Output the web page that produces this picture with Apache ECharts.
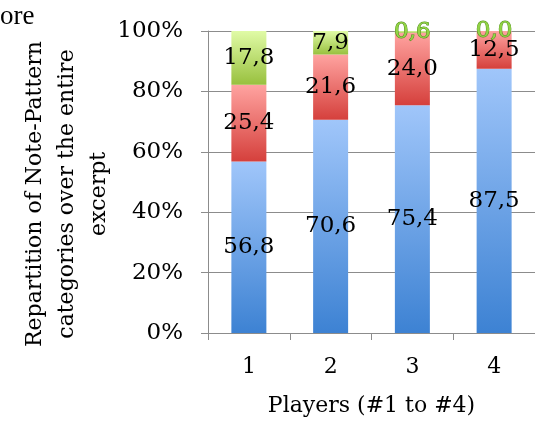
<!DOCTYPE html>
<html>
<head>
<meta charset="utf-8">
<script src="https://cdn.jsdelivr.net/npm/echarts@6/dist/echarts.min.js"></script>
<style>
  html, body { margin: 0; padding: 0; background: #fff; }
  #chart { width: 535px; height: 422px; }
</style>
</head>
<body>
<div id="chart"></div>
<script>
// Players and the share (%) of each note-pattern category per player
const players = ['1', '2', '3', '4'];
const blueShare = [56.8, 70.6, 75.4, 87.5];
const redShare = [25.4, 21.6, 24.0, 12.5];
const greenShare = [17.8, 7.9, 0.6, 0.0];
const yTicks = [0, 20, 40, 60, 80, 100];

const FONT = 'DejaVu Serif';

function grad(top, bottom) {
  return new echarts.graphic.LinearGradient(0, 0, 0, 1, [
    { offset: 0, color: top },
    { offset: 1, color: bottom }
  ]);
}

const fmt = p => p.value.toFixed(1).replace('.', ',');

const blackLabel = {
  show: true,
  position: 'inside',
  formatter: fmt,
  color: '#000',
  fontFamily: FONT,
  fontSize: 23
};

const chart = echarts.init(document.getElementById('chart'));
chart.setOption({
  animation: false,
  backgroundColor: '#fff',
  grid: { left: 208, top: 31, width: 340, height: 302, containLabel: false },
  xAxis: {
    type: 'category',
    data: players,
    axisLine: { lineStyle: { color: '#8c8c8c', width: 1 } },
    axisTick: { show: true, length: 7, alignWithLabel: false, lineStyle: { color: '#8c8c8c' } },
    axisLabel: { color: '#000', fontFamily: FONT, fontSize: 22, margin: 23 },
    name: 'Players (#1 to #4)',
    nameLocation: 'middle',
    nameGap: 62,
    nameTextStyle: { color: '#000', fontFamily: FONT, fontSize: 22 }
  },
  yAxis: {
    type: 'value',
    min: yTicks[0],
    max: yTicks[yTicks.length - 1],
    interval: 20,
    axisLine: { show: true, lineStyle: { color: '#8c8c8c', width: 1 } },
    axisTick: { show: true, length: 7, lineStyle: { color: '#8c8c8c' } },
    axisLabel: { formatter: '{value}%', color: '#000', fontFamily: FONT, fontSize: 23, margin: 25 },
    splitLine: { show: true, lineStyle: { color: '#8c8c8c', width: 1 } }
  },
  series: [
    {
      name: 'blue',
      type: 'bar',
      stack: 'total',
      barWidth: 35,
      data: blueShare,
      itemStyle: { color: grad('#a0c6fa', '#3d82d3') },
      label: blackLabel
    },
    {
      name: 'red',
      type: 'bar',
      stack: 'total',
      barWidth: 35,
      data: redShare,
      itemStyle: { color: grad('#ffa3a0', '#d5403c') },
      label: blackLabel
    },
    {
      name: 'green',
      type: 'bar',
      stack: 'total',
      barWidth: 35,
      // tiny categories get a green outlined label instead of the plain black one
      data: greenShare.map(v => ({
        value: v,
        label: v < 2 ? { color: '#92d444', textBorderColor: '#4f8a1c', textBorderWidth: 1 } : {}
      })),
      itemStyle: { color: grad('#e0fba6', '#98c03e') },
      label: blackLabel
    }
  ],
  graphic: [
    {
      type: 'text',
      left: 0,
      top: 3,
      style: { text: 'ore', fill: '#000', font: '27px "Liberation Serif"' }
    },
    {
      type: 'text',
      x: 67,
      y: 194,
      rotation: Math.PI / 2,
      style: {
        text: 'Repartition of Note-Pattern\ncategories over the entire\nexcerpt',
        fill: '#000',
        font: '22px "DejaVu Serif"',
        align: 'center',
        verticalAlign: 'middle',
        lineHeight: 32
      }
    }
  ]
});
</script>
</body>
</html>
